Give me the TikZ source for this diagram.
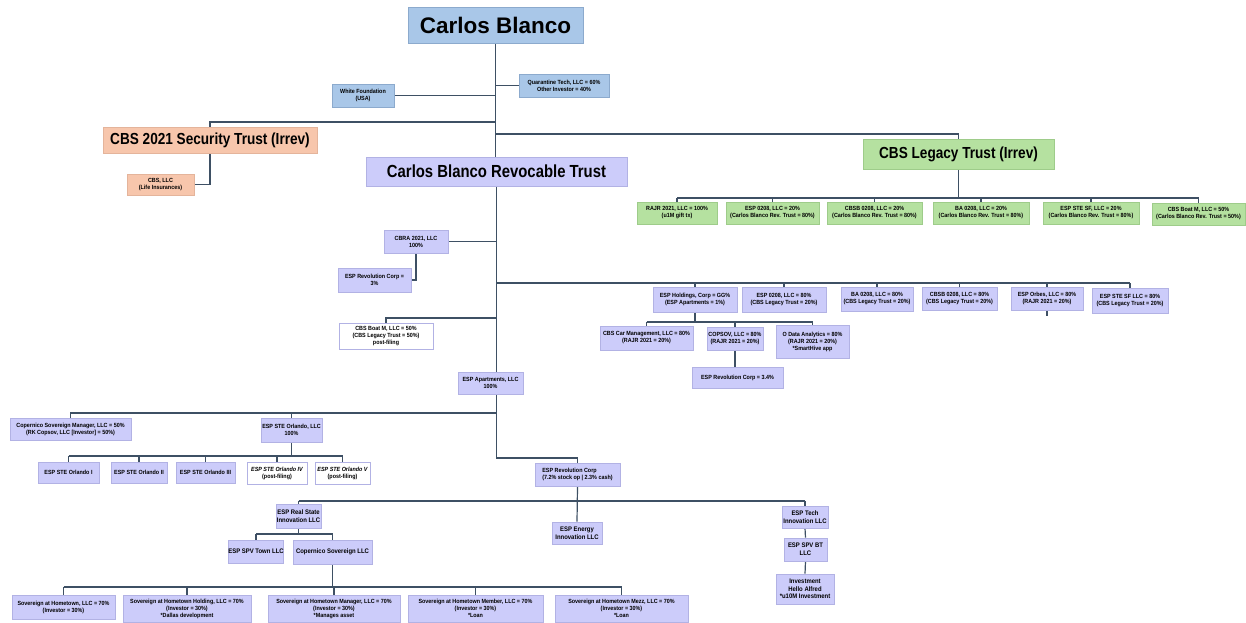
\documentclass[tikz,border=0pt]{standalone}
\usepackage{fontspec}
\setmainfont{Liberation Sans}
\newfontfamily\narrowsans[FakeStretch=0.9]{Liberation Sans}
\newfontfamily\titlesans[FakeStretch=0.85]{Liberation Sans}
\pgfdeclarelayer{bg}
\pgfsetlayers{bg,main}

\definecolor{bluefill}{RGB}{169,199,232}
\definecolor{blueline}{RGB}{140,170,205}
\definecolor{salmonfill}{RGB}{247,198,172}
\definecolor{salmonline}{RGB}{228,180,155}
\definecolor{greenfill}{RGB}{181,225,160}
\definecolor{greenline}{RGB}{158,204,138}
\definecolor{lavfill}{RGB}{204,204,250}
\definecolor{lavline}{RGB}{178,178,228}
\definecolor{connector}{RGB}{62,80,100}

\newcommand{\smallfont}{\narrowsans\bfseries\fontsize{6}{7}\selectfont}
\newcommand{\midfont}{\narrowsans\bfseries\fontsize{6.6}{7.6}\selectfont}
\newcommand{\trustfont}{\titlesans\bfseries\fontsize{16}{18}\selectfont}

% box given by its corners: [style]{name}{x1}{y1}{x2}{y2}{text}
\newcommand{\bx}[7][lav]{%
  \pgfmathsetmacro\bxcx{(#3+#5)/2}%
  \pgfmathsetmacro\bxcy{(#4+#6)/2}%
  \pgfmathsetmacro\bxw{#5-#3}%
  \pgfmathsetmacro\bxh{#6-#4}%
  \node[#1, minimum width=\bxw pt, minimum height=\bxh pt] (#2) at (\bxcx,\bxcy) {#7};}

\begin{document}
\begin{tikzpicture}[x=1pt,y=-1pt,
  base/.style={inner sep=0pt, align=center, line width=0.6pt, font=\smallfont},
  lav/.style={base, fill=lavfill, draw=lavline},
  lavwhite/.style={base, fill=white, draw=lavline},
  blue/.style={base, fill=bluefill, draw=blueline},
  salmon/.style={base, fill=salmonfill, draw=salmonline},
  green/.style={base, fill=greenfill, draw=greenline},
  conn/.style={draw=connector, line width=1.2pt}]
\useasboundingbox (0,0) rectangle (1246,622);

% ---- top level
\bx[blue, font=\bfseries\fontsize{22.5}{26}\selectfont]{cb}{408}{7}{583}{43}{Carlos Blanco}
\bx[blue]{wf}{332}{84}{394}{107}{White Foundation\\(USA)}
\bx[blue]{qt}{519}{74}{609}{97}{Quarantine Tech, LLC = 60\%\\Other Investor = 40\%}

% ---- trusts
\bx[salmon, font=\trustfont]{st}{103}{127}{317}{153}{CBS 2021 Security Trust (Irrev)}
\bx[salmon]{cbsllc}{127}{174}{194}{195}{CBS, LLC\\(Life Insurances)}
\bx[lav, font=\titlesans\bfseries\fontsize{17.5}{20}\selectfont]{rt}{366}{157}{627}{186}{Carlos Blanco Revocable Trust}
\bx[green, font=\trustfont]{lt}{863}{139}{1054}{169}{CBS Legacy Trust (Irrev)}

% ---- legacy trust holdings
\bx[green]{g1}{637}{202}{717}{224}{RAJR 2021, LLC = 100\%\\(u1M gift tx)}
\bx[green]{g2}{726}{202}{819}{224}{ESP 0208, LLC = 20\%\\(Carlos Blanco Rev. Trust = 80\%)}
\bx[green]{g3}{827}{202}{922}{224}{CBSB 0208, LLC = 20\%\\(Carlos Blanco Rev. Trust = 80\%)}
\bx[green]{g4}{933}{202}{1029}{224}{BA 0208, LLC = 20\%\\(Carlos Blanco Rev. Trust = 80\%)}
\bx[green]{g5}{1043}{202}{1139}{224}{ESP STE SF, LLC = 20\%\\(Carlos Blanco Rev. Trust = 80\%)}
\bx[green]{g6}{1152}{203}{1245}{225}{CBS Boat M, LLC = 50\%\\(Carlos Blanco Rev. Trust = 50\%)}

% ---- revocable trust holdings
\bx{cbra}{384}{230}{448}{253}{CBRA 2021, LLC\\100\%}
\bx{rev3}{338}{268}{411}{292}{ESP Revolution Corp =\\3\%}
\bx[lavwhite]{boatw}{339}{323}{433}{349}{CBS Boat M, LLC = 50\%\\(CBS Legacy Trust = 50\%)\\post-filing}
\bx{h1}{653}{287}{737}{312}{ESP Holdings, Corp = GG\%\\(ESP Apartments = 1\%)}
\bx{h2}{742}{287}{826}{312}{ESP 0208, LLC = 80\%\\(CBS Legacy Trust = 20\%)}
\bx{h3}{841}{287}{913}{311}{BA 0208, LLC = 80\%\\(CBS Legacy Trust = 20\%)}
\bx{h4}{922}{287}{997}{310}{CBSB 0208, LLC = 80\%\\(CBS Legacy Trust = 20\%)}
\bx{h5}{1011}{287}{1083}{310}{ESP Orbes, LLC = 80\%\\(RAJR 2021 = 20\%)}
\bx{h6}{1092}{288}{1168}{313}{ESP STE SF LLC = 80\%\\(CBS Legacy Trust = 20\%)}
\bx{c1}{600}{326}{693}{350}{CBS Car Management, LLC = 80\%\\(RAJR 2021 = 20\%)}
\bx{c2}{707}{327}{763}{350}{COPSOV, LLC = 80\%\\(RAJR 2021 = 20\%)}
\bx{c3}{776}{325}{849}{358}{O Data Analytics = 80\%\\(RAJR 2021 = 20\%)\\*SmartHive app}
\bx{r34}{692}{367}{783}{388}{ESP Revolution Corp = 3.4\%}
\bx{apt}{458}{372}{523}{394}{ESP Apartments, LLC\\100\%}

% ---- apartments branch
\bx{copm}{10}{418}{131}{440}{Copernico Sovereign Manager, LLC = 50\%\\(RK Copsov, LLC [Investor] = 50\%)}
\bx{orl}{261}{418}{322}{442}{ESP STE Orlando, LLC\\100\%}
\bx{o1}{38}{462}{99}{483}{ESP STE Orlando I}
\bx{o2}{111}{462}{167}{483}{ESP STE Orlando II}
\bx{o3}{176}{462}{235}{483}{ESP STE Orlando III}
\bx[lavwhite]{o4}{247}{462}{307}{484}{\itshape ESP STE Orlando IV\\(post-filing)}
\bx[lavwhite]{o5}{315}{462}{370}{484}{\itshape ESP STE Orlando V\\(post-filing)}
\bx[lav, align=left]{rev}{535}{463}{620}{486}{ESP Revolution Corp\\(7.2\% stock op | 2.3\% cash)}
\bx[lav, font=\midfont]{re}{276}{504}{321}{528}{ESP Real State\\Innovation\ LLC}
\bx[lav, font=\midfont]{en}{552}{522}{602}{544}{ESP Energy\\Innovation LLC}
\bx[lav, font=\midfont]{tech}{782}{506}{828}{528}{ESP Tech\\Innovation LLC}
\bx[lav, font=\midfont]{spvbt}{784}{538}{827}{561}{ESP SPV BT\\LLC}
\bx[lav, font=\midfont]{inv}{776}{574}{834}{604}{Investment\\Hello Alfred\\*u10M Investment}
\bx[lav, font=\midfont]{spvt}{229}{540}{283}{563}{ESP SPV Town LLC}
\bx[lav, font=\midfont]{cops}{293}{540}{372}{564}{Copernico Sovereign LLC}

% ---- hometown entities
\bx{s1}{12}{595}{115}{619}{Sovereign at Hometown, LLC = 70\%\\(Investor = 30\%)}
\bx{s2}{123}{595}{251}{622}{Sovereign at Hometown Holding, LLC = 70\%\\(Investor = 30\%)\\*Dallas development}
\bx{s3}{268}{595}{400}{622}{Sovereign at Hometown Manager, LLC = 70\%\\(Investor = 30\%)\\*Manages asset}
\bx{s4}{408}{595}{543}{622}{Sovereign at Hometown Member, LLC = 70\%\\(Investor = 30\%)\\*Loan}
\bx{s5}{555}{595}{688}{622}{Sovereign at Hometown Mezz, LLC = 70\%\\(Investor = 30\%)\\*Loan}

% ---- bus heights
\coordinate (yL) at (0,122);
\coordinate (yR) at (0,134);
\coordinate (yG) at (0,198);
\coordinate (yH) at (0,283);
\coordinate (yB) at (0,318);
\coordinate (yC) at (0,322);
\coordinate (yM) at (0,413);
\coordinate (yO) at (0,456);
\coordinate (yA) at (0,458);
\coordinate (yV) at (0,501);
\coordinate (yS) at (0,534);
\coordinate (yT) at (0,587);

\begin{pgfonlayer}{bg}
\fill[white] (0,0) rectangle (1246,622);
% founder
\draw[conn] (cb.south) -- (cb.south |- rt.north);
\draw[conn] (wf.east) -- (wf.east -| cb.south);
\draw[conn] (qt.west) -- (qt.west -| cb.south);
\draw[conn] (cb.south |- yL) -| (st.north);
\draw[conn] (cb.south |- yR) -| (lt.north);
\draw[conn] (st.south) |- (cbsllc.east);
% legacy trust
\draw[conn] (lt.south) -- (lt.south |- yG);
\draw[conn] (g1.north |- yG) -- (g6.north |- yG);
\foreach \i in {1,...,6} \draw[conn] (g\i.north) -- (g\i.north |- yG);
% revocable trust trunk
\draw[conn] (rt.south) -- (rt.south |- yA) -| (rev.north);
\draw[conn] (cbra.east) -- (cbra.east -| rt.south);
\draw[conn] (cbra.south) |- (rev3.east);
\draw[conn] (rt.south |- yH) -- (h6.north |- yH);
\foreach \i in {1,...,6} \draw[conn] (h\i.north) -- (h\i.north |- yH);
\draw[conn] (rt.south |- yB) -| (boatw.north);
\draw[conn] (h5.south) -- ++(0,6);
% holdings corp
\draw[conn] (h1.south) -- (h1.south |- yC);
\draw[conn] (c1.north |- yC) -- (c3.north |- yC);
\foreach \i in {1,2,3} \draw[conn] (c\i.north) -- (c\i.north |- yC);
\draw[conn] (c2.south) -- (c2.south |- r34.north);
% apartments level
\draw[conn] (rt.south |- yM) -| (copm.north);
\draw[conn] (orl.north) -- (orl.north |- yM);
\draw[conn] (orl.south) -- (orl.south |- yO);
\draw[conn] (o1.north |- yO) -- (o5.north |- yO);
\foreach \i in {1,...,5} \draw[conn] (o\i.north) -- (o\i.north |- yO);
% revolution corp
\draw[conn] (rev.south) -- (en.north);
\draw[conn] (re.north |- yV) -- (tech.north |- yV);
\draw[conn] (re.north) -- (re.north |- yV);
\draw[conn] (tech.north) -- (tech.north |- yV);
\draw[conn] (tech.south) -- (spvbt.north);
\draw[conn] (spvbt.south) -- (inv.north);
% real state
\draw[conn] (re.south) -- (re.south |- yS);
\draw[conn] (spvt.north |- yS) -- (cops.north |- yS);
\draw[conn] (spvt.north) -- (spvt.north |- yS);
\draw[conn] (cops.north) -- (cops.north |- yS);
% hometown
\draw[conn] (cops.south) -- (cops.south |- yT);
\draw[conn] (s1.north |- yT) -- (s5.north |- yT);
\foreach \i in {1,...,5} \draw[conn] (s\i.north) -- (s\i.north |- yT);
\end{pgfonlayer}
\end{tikzpicture}
\end{document}
